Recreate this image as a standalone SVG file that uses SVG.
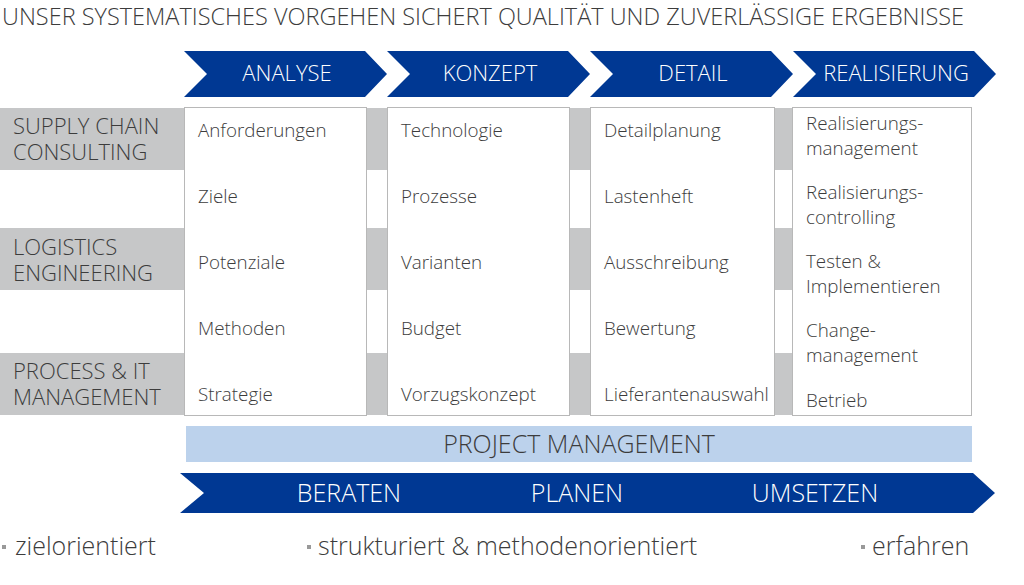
<svg xmlns="http://www.w3.org/2000/svg" width="1024" height="585" viewBox="0 0 1024 585">
<style>
text{font-family:"Open Sans","Liberation Sans",sans-serif;font-weight:300;fill:#3c3c3c}
.h{font-size:22px;fill:#fff;text-anchor:middle}
.r{font-size:22px}
.i{font-size:18.8px}
.col{fill:#fff;stroke:#b8b8b8;stroke-width:1}
.band{fill:#c6c7c8}
.chev{fill:#003893}
.b{fill:#999}
</style>
<rect width="1024" height="585" fill="#fff"/>
<text x="2" y="25" style="font-size:23.5px">UNSER SYSTEMATISCHES VORGEHEN SICHERT QUALITÄT UND ZUVERLÄSSIGE ERGEBNISSE</text>
<g id="bands">
<rect class="band" x="0" y="108" width="792" height="62"/>
<rect class="band" x="0" y="228" width="792" height="62"/>
<rect class="band" x="0" y="353" width="792" height="62"/>
</g>
<g id="rows">
<text class="r" x="13" y="134">SUPPLY CHAIN</text><text class="r" x="13" y="160">CONSULTING</text>
<text class="r" x="13" y="255">LOGISTICS</text><text class="r" x="13" y="281">ENGINEERING</text>
<text class="r" x="13" y="379">PROCESS &amp; IT</text><text class="r" x="13" y="405">MANAGEMENT</text>
</g>
<g id="phases">
<polygon class="chev" points="184,51 365,51 387,74 365,97 184,97 207,74"/>
<text class="h" x="287" y="81">ANALYSE</text>
<polygon class="chev" points="387,51 568,51 590,74 568,97 387,97 410,74"/>
<text class="h" x="490" y="81">KONZEPT</text>
<polygon class="chev" points="590,51 771,51 793,74 771,97 590,97 613,74"/>
<text class="h" x="693" y="81">DETAIL</text>
<polygon class="chev" points="793,51 974,51 996,74 974,97 793,97 816,74"/>
<text class="h" x="896" y="81">REALISIERUNG</text>
</g>
<g id="col1">
<rect class="col" x="184.5" y="107.5" width="182" height="308"/>
<text class="i" x="198" y="137">Anforderungen</text>
<text class="i" x="198" y="203">Ziele</text>
<text class="i" x="198" y="269">Potenziale</text>
<text class="i" x="198" y="335">Methoden</text>
<text class="i" x="198" y="401">Strategie</text>
</g>
<g id="col2">
<rect class="col" x="387.5" y="107.5" width="182" height="308"/>
<text class="i" x="401" y="137">Technologie</text>
<text class="i" x="401" y="203">Prozesse</text>
<text class="i" x="401" y="269">Varianten</text>
<text class="i" x="401" y="335">Budget</text>
<text class="i" x="401" y="401">Vorzugskonzept</text>
</g>
<g id="col3">
<rect class="col" x="590.5" y="107.5" width="184" height="308"/>
<text class="i" x="604" y="137">Detailplanung</text>
<text class="i" x="604" y="203">Lastenheft</text>
<text class="i" x="604" y="269">Ausschreibung</text>
<text class="i" x="604" y="335">Bewertung</text>
<text class="i" x="604" y="401">Lieferantenauswahl</text>
</g>
<g id="col4">
<rect class="col" x="792.5" y="107.5" width="179" height="308"/>
<text class="i" x="806" y="130">Realisierungs-</text><text class="i" x="806" y="155">management</text>
<text class="i" x="806" y="199">Realisierungs-</text><text class="i" x="806" y="224">controlling</text>
<text class="i" x="806" y="268">Testen &amp;</text><text class="i" x="806" y="293">Implementieren</text>
<text class="i" x="806" y="337">Change-</text><text class="i" x="806" y="362">management</text>
<text class="i" x="806" y="407">Betrieb</text>
</g>
<g id="pm">
<rect x="186" y="426" width="786" height="36" fill="#bcd2ec"/>
<text x="579" y="453" style="font-size:25px;text-anchor:middle">PROJECT MANAGEMENT</text>
</g>
<g id="bottom">
<polygon class="chev" points="180,473 973,473 995,493 973,513 180,513 204,493"/>
<text class="h" x="349" y="502" style="font-size:25px">BERATEN</text>
<text class="h" x="577" y="502" style="font-size:25px">PLANEN</text>
<text class="h" x="815" y="502" style="font-size:25px">UMSETZEN</text>
</g>
<g id="bullets">
<rect class="b" x="2" y="545" width="4" height="4"/>
<text x="15" y="555" style="font-size:25px">zielorientiert</text>
<rect class="b" x="307" y="545" width="4" height="4"/>
<text x="318" y="555" style="font-size:25px">strukturiert &amp; methodenorientiert</text>
<rect class="b" x="861" y="545" width="4" height="4"/>
<text x="872" y="555" style="font-size:25px">erfahren</text>
</g>
</svg>
